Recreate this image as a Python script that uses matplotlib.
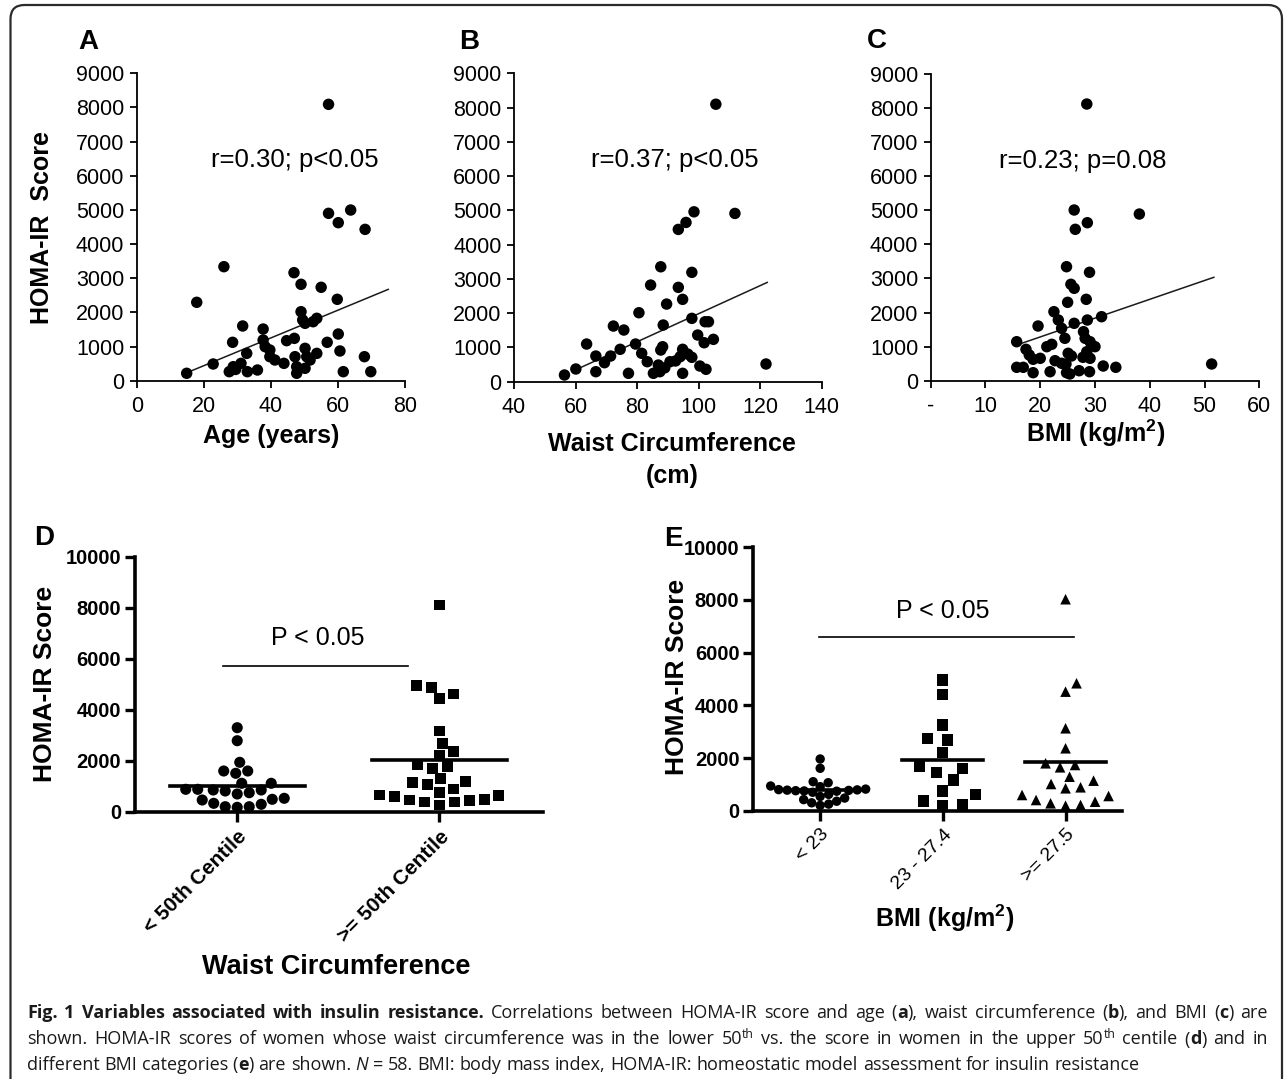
import re
import numpy as np
import matplotlib
matplotlib.use("Agg")
import matplotlib.pyplot as plt
from matplotlib.patches import FancyBboxPatch
from matplotlib.transforms import IdentityTransform

# ---------------- data ----------------
# Panel A: age vs HOMA-IR
A_age = [14.9, 17.9, 22.8, 26.0, 28.6, 27.6, 28.8, 31.1, 32.8, 31.6, 33.0, 36.0, 37.7, 37.7,
         38.3, 39.7, 39.7, 41.2, 43.9, 44.7, 47.0, 46.9, 49.0, 47.2, 47.7, 47.7, 49.0, 49.5,
         50.2, 50.2, 50.2, 50.7, 51.7, 52.6, 53.7, 53.7, 55.0, 56.8, 59.8, 60.1, 60.6, 61.6,
         67.9, 69.8, 57.2, 57.2, 60.1, 63.8, 68.1, 29.5]
A_homa = [217, 2295, 489, 3338, 1124, 264, 410, 508, 800, 1602, 264, 313, 1513, 1191,
          996, 899, 703, 606, 508, 1172, 1240, 3163, 2822, 703, 410, 217, 2020, 1777,
          1680, 948, 363, 703, 606, 1727, 800, 1827, 2735, 1124, 2383, 1367, 870, 264,
          703, 264, 8091, 4900, 4626, 4997, 4431, 330]
A_fit_x = [16.4, 75.0]
A_fit_y = [293, 2674]

# Panel B: waist circumference vs HOMA-IR
B_waist = [56.4, 60.1, 63.6, 66.6, 66.6, 69.4, 71.4, 72.3, 74.5, 75.7, 77.2, 79.5, 80.6,
           81.5, 83.3, 84.4, 85.3, 87.4, 87.7, 88.3, 87.7, 88.5, 86.9, 89.6, 90.7, 93.4,
           94.8, 94.0, 94.8, 94.8, 97.8, 97.8, 97.8, 99.7, 100.4, 102.4, 101.8, 102.1,
           103.2, 104.8, 121.9, 105.6, 111.8, 98.5, 95.9, 93.4, 92.5, 96.5, 89.0]
B_homa = [190, 365, 1094, 744, 286, 549, 744, 1619, 940, 1503, 239, 1094, 2008,
          823, 578, 2816, 239, 286, 919, 1015, 3350, 1649, 481, 2261, 578, 2749,
          2399, 724, 940, 239, 3187, 1844, 706, 1357, 452, 356, 1132, 1745,
          1745, 1231, 511, 8097, 4908, 4955, 4645, 4441, 600, 800, 400]
B_fit_x = [60.4, 122.3]
B_fit_y = [356, 2894]

# Panel C: BMI vs HOMA-IR
C_bmi = [24.8, 29.0, 25.6, 26.2, 28.4, 25.0, 22.5, 23.3, 19.6, 23.9, 26.2, 28.6, 31.2,
         24.5, 27.9, 28.2, 29.1, 15.7, 17.4, 18.0, 21.2, 22.1, 30.0, 28.5, 25.1, 25.7,
         27.8, 20.0, 18.7, 22.7, 29.1, 23.9, 15.7, 16.9, 18.7, 21.8, 24.7, 24.8, 25.4,
         27.1, 29.0, 31.5, 33.8, 51.3, 28.5, 26.2, 26.4, 28.6, 38.1]
C_homa = [3345, 3181, 2829, 2711, 2388, 2300, 2025, 1781, 1605, 1537, 1684, 1781, 1878,
          1244, 1438, 1244, 1144, 1144, 921, 754, 998, 1068, 998, 851, 804, 725,
          687, 657, 628, 587, 657, 511, 393, 393, 235, 264, 490, 235, 197,
          293, 264, 431, 393, 490, 8119, 5009, 4442, 4636, 4891]
C_fit_x = [15.7, 51.7]
C_fit_y = [1047, 3034]
C_xticks = [0, 10, 20, 30, 40, 50, 60]
C_xticklabels = ["-", "10", "20", "30", "40", "50", "60"]

# Panel D: waist circumference groups
D_categories = ["< 50th Centile", ">= 50th Centile"]
D_low = [3294, 2784, 1937, 1596, 1506, 1596, 1114, 1114, 878, 851, 851, 878,
         812, 694, 486, 290, 196, 172, 196, 329, 459, 525, 745]
D_high = [8106, 4941, 4616, 4447, 4863, 3165, 2682, 2353, 2224, 1831, 1702, 1765,
          1310, 1137, 1074, 890, 1176, 761, 627, 486, 380, 263, 380, 431, 655, 588, 459]
D_means = [1020, 2027]
D_pbar_x = [-0.07, 0.847]
D_pbar_y = 5714

# Panel E: BMI groups
E_categories = ["< 23", "23 - 27.4", ">= 27.5"]
E_low = [1963, 1610, 1101, 1063, 938, 912, 820, 800, 790, 780, 770, 760, 750, 740,
         700, 620, 540, 480, 420, 360, 300, 250, 200]
E_mid = [4964, 4421, 3255, 2750, 2685, 2203, 1698, 1610, 1443, 1166, 748, 623, 368, 190, 243]
E_high = [8029, 4838, 4520, 3129, 2370, 1800, 1648, 1736, 1140, 889, 851, 1014, 1291,
          596, 406, 281, 190, 216, 342, 558]
E_means = [800, 1920, 1860]
E_pbar_x = [-0.01, 2.07]
E_pbar_y = 6586

# ---------------- figure ----------------
W, H = 1288, 1079
plt.rcParams['font.family'] = ['Liberation Sans', 'DejaVu Sans']
plt.rcParams['mathtext.fontset'] = 'custom'
plt.rcParams['mathtext.rm'] = 'Liberation Sans'
plt.rcParams['mathtext.bf'] = 'Liberation Sans:bold'
fig = plt.figure(figsize=(W / 100, H / 100), dpi=100)
fig.patch.set_facecolor('white')


def ax_px(l, t, r, b):
    return fig.add_axes([l / W, 1 - b / H, (r - l) / W, (b - t) / H])


def ftext(x, y, s, **kw):
    return fig.text(x / W, 1 - y / H, s, **kw)


def style_top(ax):
    for side in ['top', 'right']:
        ax.spines[side].set_visible(False)
    for side in ['left', 'bottom']:
        ax.spines[side].set_linewidth(1.3)
    ax.tick_params(direction='out', length=5, width=1.3, labelsize=15.5)
    ax.tick_params(axis='y', pad=4)
    ax.tick_params(axis='x', pad=6)
    ax.set_facecolor('none')


def scatter_panel(box, xs, ys, fx, fy, xlim, xticks, label_txt, label_xy):
    ax = ax_px(*box)
    ax.scatter(xs, ys, s=68, c='black', edgecolors='none', clip_on=False, zorder=3)
    ax.plot(fx, fy, color='#1a1a1a', lw=1.1, zorder=2)
    ax.set_xlim(*xlim)
    ax.set_ylim(0, 9000)
    ax.set_yticks(np.arange(0, 9001, 1000))
    ax.set_xticks(xticks)
    style_top(ax)
    ax.text(label_xy[0], label_xy[1], label_txt, ha='center', va='center', fontsize=18.5)
    return ax


axA = scatter_panel((136.7, 73.3, 405, 380.7), A_age, A_homa, A_fit_x, A_fit_y, (0, 80),
                    [0, 20, 40, 60, 80], "r=0.30; p<0.05", (47, 6461))
axB = scatter_panel((514, 73.3, 821.7, 381.5), B_waist, B_homa, B_fit_x, B_fit_y, (40, 140),
                    [40, 60, 80, 100, 120, 140], "r=0.37; p<0.05", (92.3, 6470))
axC = scatter_panel((930.7, 74, 1259.3, 380.7), C_bmi, C_homa, C_fit_x, C_fit_y, (0, 60),
                    C_xticks, "r=0.23; p=0.08", (27.7, 6461))
axC.set_xticklabels(C_xticklabels)

# panel letters and labels (top row)
for txt, x, y in [("A", 88.3, 42), ("B", 469, 42), ("C", 876.7, 41)]:
    ftext(x, y, txt, ha='center', va='center', fontsize=20, fontweight='bold')
ftext(42.5, 228, "HOMA-IR  Score", rotation=90, ha='center', va='center', fontsize=18, fontweight='bold')
ftext(271, 436, "Age (years)", ha='center', va='center', fontsize=18, fontweight='bold')
ftext(672, 444, "Waist Circumference", ha='center', va='center', fontsize=18, fontweight='bold')
ftext(672, 476, "(cm)", ha='center', va='center', fontsize=18, fontweight='bold')
ftext(1095.5, 433, r"BMI (kg/m$\mathbf{^2}$)", ha='center', va='center', fontsize=18, fontweight='bold')


# ---------------- swarm helper ----------------
def swarm_offsets(ax, values, xcenter, diam_px, ygap_px):
    """Beeswarm placement: collision box of diam_px horizontally, ygap_px vertically."""
    values = np.asarray(values, dtype=float)
    pts = ax.transData.transform(np.column_stack([np.full(len(values), xcenter), values]))
    ypix = pts[:, 1]
    ppu = ax.transData.transform([[xcenter + 1, 0]])[0, 0] - ax.transData.transform([[xcenter, 0]])[0, 0]
    steps = np.arange(0.5, 300, 0.5)
    cands = np.concatenate([[0.0], np.ravel(np.column_stack([steps, -steps]))])
    placed = []
    offs = np.zeros(len(values))
    for idx in np.argsort(ypix):
        y = ypix[idx]
        for c in cands:
            if all(((c - px) / diam_px) ** 2 + ((y - py) / ygap_px) ** 2 >= 1.0 for px, py in placed):
                break
        placed.append((c, y))
        offs[idx] = c
    return offs / ppu


def style_bottom(ax, xlabels, bold_x, xfs):
    for side in ['top', 'right']:
        ax.spines[side].set_visible(False)
    for side in ['left', 'bottom']:
        ax.spines[side].set_linewidth(2.6)
    ax.set_ylim(0, 10000)
    ax.set_yticks(np.arange(0, 10001, 2000))
    ax.tick_params(direction='out', length=7, width=2.4, labelsize=14.5)
    ax.tick_params(axis='y', pad=3)
    ax.tick_params(axis='x', pad=4)
    for lab in ax.get_yticklabels():
        lab.set_fontweight('bold')
    ax.set_xticks(range(len(xlabels)))
    ax.set_xticklabels(xlabels, rotation=45, ha='right', va='top', rotation_mode='anchor',
                       fontsize=xfs, fontweight='bold' if bold_x else 'normal')
    ax.set_facecolor('none')


# ---------------- panel D ----------------
axD = ax_px(135, 556.7, 542.9, 811.7)
axD.set_xlim(-0.506, 1.513)
axD.set_ylim(0, 10000)
for i, (vals, mk, s, d, g) in enumerate([(D_low, 'o', 64, 12.0, 11.5), (D_high, 's', 60, 15.0, 12.0)]):
    off = swarm_offsets(axD, vals, i, d, g)
    axD.scatter(np.full(len(vals), i) + off, vals, marker=mk, s=s, c='black',
                edgecolors='none', clip_on=False, zorder=3)
    axD.plot([i - 0.335, i + 0.335], [D_means[i]] * 2, color='black', lw=2.6, zorder=2)
axD.plot(D_pbar_x, [D_pbar_y] * 2, color='black', lw=1.2)
axD.text(0.40, 6800, "P < 0.05", ha='center', va='center', fontsize=18)
style_bottom(axD, D_categories, True, 15)
ftext(44, 538, "D", ha='center', va='center', fontsize=20, fontweight='bold')
ftext(44.6, 684, "HOMA-IR Score", rotation=90, ha='center', va='center', fontsize=19, fontweight='bold')
ftext(336.6, 967, "Waist Circumference", ha='center', va='center', fontsize=19.5, fontweight='bold')

# ---------------- panel E ----------------
axE = ax_px(753.3, 547.3, 1122, 810.7)
axE.set_xlim(-0.545, 2.46)
axE.set_ylim(0, 10000)
for i, (vals, mk, s, d, g) in enumerate([(E_low, 'o', 46, 8.5, 8.5), (E_mid, 's', 64, 20.0, 13.0),
                                          (E_high, '^', 58, 15.0, 12.0)]):
    off = swarm_offsets(axE, vals, i, d, g)
    axE.scatter(np.full(len(vals), i) + off, vals, marker=mk, s=s, c='black',
                edgecolors='none', clip_on=False, zorder=3)
    axE.plot([i - 0.33, i + 0.33], [E_means[i]] * 2, color='black', lw=2.6, zorder=2)
axE.plot(E_pbar_x, [E_pbar_y] * 2, color='black', lw=1.2)
axE.text(1.0, 7596, "P < 0.05", ha='center', va='center', fontsize=18)
style_bottom(axE, E_categories, False, 14)
ftext(673, 539, "E", ha='center', va='center', fontsize=20, fontweight='bold')
ftext(676.7, 677, "HOMA-IR Score", rotation=90, ha='center', va='center', fontsize=19, fontweight='bold')
ftext(945, 918, r"BMI (kg/m$\mathbf{^2}$)", ha='center', va='center', fontsize=18, fontweight='bold')

# ---------------- caption ----------------
caption_lines = [
    "**Fig. 1 Variables associated with insulin resistance.** Correlations between HOMA-IR score and age (**a**), waist circumference (**b**), and BMI (**c**) are",
    "shown. HOMA-IR scores of women whose waist circumference was in the lower 50^th^ vs. the score in women in the upper 50^th^ centile (**d**) and in",
    "different BMI categories (**e**) are shown. *N* = 58. BMI: body mass index, HOMA-IR: homeostatic model assessment for insulin resistance",
]
cap_fs = 13.0
cap_left, cap_right = 27, 1268
cap_baselines = [1018, 1044.5, 1070]
renderer = fig.canvas.get_renderer()


def parse_runs(s):
    bold = it = sup = False
    runs = []
    for p in re.split(r'(\*\*|\*|\^)', s):
        if p == '**':
            bold = not bold
        elif p == '*':
            it = not it
        elif p == '^':
            sup = not sup
        elif p:
            runs.append((p, bold, it, sup))
    words = [[]]
    for text, b, i, sp in runs:
        for k, piece in enumerate(text.split(' ')):
            if k > 0:
                words.append([])
            if piece:
                words[-1].append((piece, b, i, sp))
    return [w for w in words if w]


def run_kw(b, i, sp):
    return dict(fontsize=cap_fs * (0.68 if sp else 1.0), family=['Open Sans', 'DejaVu Sans'],
                fontweight='bold' if b else 'normal', fontstyle='italic' if i else 'normal',
                color='#1a1a1a')


def run_width(piece, b, i, sp):
    t = fig.text(0, 0, piece, **run_kw(b, i, sp))
    w = t.get_window_extent(renderer).width
    t.remove()
    return w


space_w = run_width("a a", False, False, False) - run_width("aa", False, False, False)
for li, line in enumerate(caption_lines):
    words = parse_runs(line)
    widths = [[run_width(*r) for r in w] for w in words]
    totals = [sum(ws) for ws in widths]
    if li < len(caption_lines) - 1:
        gap = (cap_right - cap_left - sum(totals)) / (len(words) - 1)
    else:
        gap = space_w
    x = cap_left
    y = cap_baselines[li]
    for w, ws in zip(words, widths):
        xx = x
        for (piece, b, i, sp), rw in zip(w, ws):
            ftext(xx, y - (6 if sp else 0), piece, ha='left', va='baseline', **run_kw(b, i, sp))
            xx += rw
        x += sum(ws) + gap

# ---------------- frame ----------------
frame = FancyBboxPatch((10.5, -40), 1271.5, 1114, boxstyle="round,pad=0,rounding_size=14",
                       transform=IdentityTransform(), fill=False, edgecolor='#2b2b2b', lw=1.6)
fig.add_artist(frame)

fig.savefig("out.png", dpi=100, facecolor='white')
